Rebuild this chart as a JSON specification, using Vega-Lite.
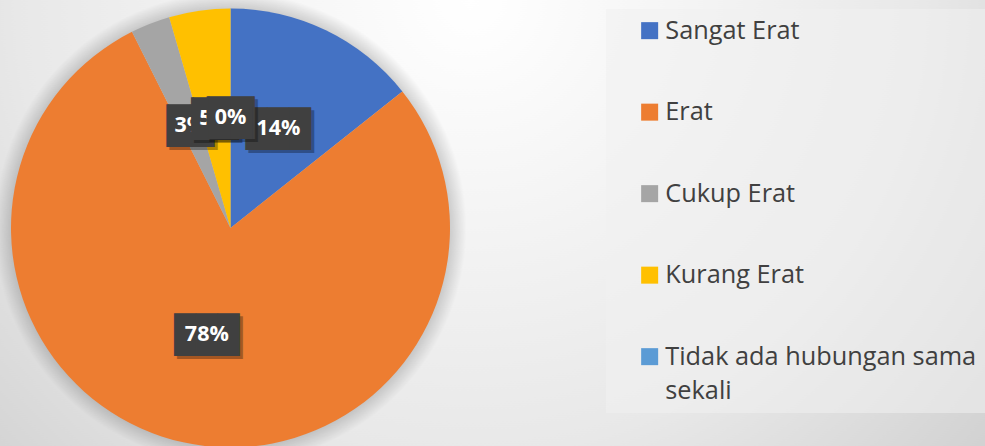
{
  "$schema": "https://vega.github.io/schema/vega-lite/v6.json",
  "width": 439,
  "height": 436,
  "autosize": {"type": "none"},
  "padding": {"left": 11, "top": 10, "right": 535, "bottom": 0},
  "background": "#e6e6e6",
  "config": {"view": {"stroke": null}},
  "data": {
    "values": [
      {"no": 1, "kategori": "Sangat Erat", "nilai": 14.3, "label": "14%"},
      {"no": 2, "kategori": "Erat", "nilai": 78.2, "label": "78%"},
      {"no": 3, "kategori": "Cukup Erat", "nilai": 2.9, "label": "3%"},
      {"no": 4, "kategori": "Kurang Erat", "nilai": 4.5, "label": "5%"},
      {"no": 5, "kategori": "Tidak ada hubungan sama sekali", "nilai": 0, "label": "0%"}
    ]
  },
  "layer": [
    {
      "transform": [{"filter": "datum.no == 1"}],
      "mark": {
        "type": "arc", "theta": 0, "theta2": 6.2832, "outerRadius": 800,
        "fill": {
          "gradient": "radial",
          "x1": 0.65, "y1": 0.358, "r1": 0,
          "x2": 0.65, "y2": 0.358, "r2": 0.44,
          "stops": [
            {"offset": 0, "color": "#ffffff"},
            {"offset": 0.64, "color": "#e8e8e8"},
            {"offset": 1, "color": "#cfcfcf"}
          ]
        }
      }
    },
    {
      "transform": [{"filter": "datum.no == 1"}],
      "mark": {
        "type": "arc", "theta": 0, "theta2": 6.2832, "outerRadius": 236,
        "fill": {
          "gradient": "radial",
          "x1": 0.5, "y1": 0.5, "r1": 0,
          "x2": 0.5, "y2": 0.5, "r2": 0.5,
          "stops": [
            {"offset": 0, "color": "rgba(0,0,0,0.2)"},
            {"offset": 0.93, "color": "rgba(0,0,0,0.16)"},
            {"offset": 1, "color": "rgba(0,0,0,0)"}
          ]
        }
      }
    },
    {
      "encoding": {
        "theta": {"field": "nilai", "type": "quantitative", "stack": true},
        "order": {"field": "no", "type": "quantitative"}
      },
      "layer": [
        {
          "mark": {"type": "arc", "outerRadius": 219.5},
          "encoding": {
            "color": {
              "field": "kategori",
              "type": "nominal",
              "sort": ["Sangat Erat", "Erat", "Cukup Erat", "Kurang Erat", "Tidak ada hubungan sama sekali"],
              "scale": {
                "domain": ["Sangat Erat", "Erat", "Cukup Erat", "Kurang Erat", "Tidak ada hubungan sama sekali"],
                "range": ["#4472C4", "#ED7D31", "#A5A5A5", "#FFC000", "#5B9BD5"]
              },
              "legend": {
                "orient": "none",
                "legendX": 595,
                "legendY": -1,
                "title": null,
                "symbolType": "square",
                "symbolSize": 289,
                "symbolStrokeWidth": 0,
                "labelFont": "Open Sans",
                "labelFontSize": 25.3,
                "labelColor": "#404040",
                "rowPadding": 55.5,
                "padding": 9,
                "fillColor": "rgba(240,240,240,0.55)",
                "symbolOffset": 22,
                "labelOffset": 3,
                "labelLimit": 400,
                "labelExpr": "datum.label == 'Tidak ada hubungan sama sekali' ? ['Tidak ada hubungan sama', 'sekali'] : datum.label",
                "encode": {"labels": {"update": {"lineHeight": {"value": 34}}}}
              }
            }
          }
        },
        {
          "mark": {"type": "text", "radius": 110, "font": "DejaVu Sans Mono", "fontSize": 36, "dx": 3, "dy": 4, "fill": "#000000"},
          "encoding": {
            "detail": {"field": "kategori"},
            "text": {"condition": {"test": "length(datum.label) > 2", "value": "███"}, "value": "▕██▏"},
            "opacity": {"condition": {"test": "datum.no <= 2", "value": 0.3}, "value": 0}
          }
        },
        {
          "mark": {"type": "text", "radius": 110, "font": "DejaVu Sans Mono", "fontSize": 36, "dy": 1, "fill": "#404040"},
          "encoding": {
            "detail": {"field": "kategori"},
            "text": {"condition": {"test": "length(datum.label) > 2", "value": "███"}, "value": "▕██▏"},
            "opacity": {"condition": {"test": "datum.no <= 2", "value": 1}, "value": 0}
          }
        },
        {
          "mark": {"type": "text", "radius": 110, "font": "Open Sans", "fontWeight": "bold", "fontSize": 21.5, "fill": "#ffffff"},
          "encoding": {
            "detail": {"field": "kategori"},
            "text": {"field": "label"},
            "opacity": {"condition": {"test": "datum.no <= 2", "value": 1}, "value": 0}
          }
        },
        {
          "mark": {"type": "text", "radius": 110, "font": "DejaVu Sans Mono", "fontSize": 36, "dx": 3, "dy": 4, "fill": "#000000"},
          "encoding": {
            "detail": {"field": "kategori"},
            "text": {"condition": {"test": "length(datum.label) > 2", "value": "███"}, "value": "▕██▏"},
            "opacity": {"condition": {"test": "datum.no == 3", "value": 0.3}, "value": 0}
          }
        },
        {
          "mark": {"type": "text", "radius": 110, "font": "DejaVu Sans Mono", "fontSize": 36, "dy": 1, "fill": "#404040"},
          "encoding": {
            "detail": {"field": "kategori"},
            "text": {"condition": {"test": "length(datum.label) > 2", "value": "███"}, "value": "▕██▏"},
            "opacity": {"condition": {"test": "datum.no == 3", "value": 1}, "value": 0}
          }
        },
        {
          "mark": {"type": "text", "radius": 110, "font": "Open Sans", "fontWeight": "bold", "fontSize": 21.5, "fill": "#ffffff"},
          "encoding": {
            "detail": {"field": "kategori"},
            "text": {"field": "label"},
            "opacity": {"condition": {"test": "datum.no == 3", "value": 1}, "value": 0}
          }
        },
        {
          "mark": {"type": "text", "radius": 110, "font": "DejaVu Sans Mono", "fontSize": 36, "dx": 3, "dy": 4, "fill": "#000000"},
          "encoding": {
            "detail": {"field": "kategori"},
            "text": {"condition": {"test": "length(datum.label) > 2", "value": "███"}, "value": "▕██▏"},
            "opacity": {"condition": {"test": "datum.no == 4", "value": 0.3}, "value": 0}
          }
        },
        {
          "mark": {"type": "text", "radius": 110, "font": "DejaVu Sans Mono", "fontSize": 36, "dy": 1, "fill": "#404040"},
          "encoding": {
            "detail": {"field": "kategori"},
            "text": {"condition": {"test": "length(datum.label) > 2", "value": "███"}, "value": "▕██▏"},
            "opacity": {"condition": {"test": "datum.no == 4", "value": 1}, "value": 0}
          }
        },
        {
          "mark": {"type": "text", "radius": 110, "font": "Open Sans", "fontWeight": "bold", "fontSize": 21.5, "fill": "#ffffff"},
          "encoding": {
            "detail": {"field": "kategori"},
            "text": {"field": "label"},
            "opacity": {"condition": {"test": "datum.no == 4", "value": 1}, "value": 0}
          }
        },
        {
          "mark": {"type": "text", "radius": 110, "font": "DejaVu Sans Mono", "fontSize": 36, "dx": 3, "dy": 4, "fill": "#000000"},
          "encoding": {
            "detail": {"field": "kategori"},
            "text": {"condition": {"test": "length(datum.label) > 2", "value": "███"}, "value": "▕██▏"},
            "opacity": {"condition": {"test": "datum.no == 5", "value": 0.3}, "value": 0}
          }
        },
        {
          "mark": {"type": "text", "radius": 110, "font": "DejaVu Sans Mono", "fontSize": 36, "dy": 1, "fill": "#404040"},
          "encoding": {
            "detail": {"field": "kategori"},
            "text": {"condition": {"test": "length(datum.label) > 2", "value": "███"}, "value": "▕██▏"},
            "opacity": {"condition": {"test": "datum.no == 5", "value": 1}, "value": 0}
          }
        },
        {
          "mark": {"type": "text", "radius": 110, "font": "Open Sans", "fontWeight": "bold", "fontSize": 21.5, "fill": "#ffffff"},
          "encoding": {
            "detail": {"field": "kategori"},
            "text": {"field": "label"},
            "opacity": {"condition": {"test": "datum.no == 5", "value": 1}, "value": 0}
          }
        }
      ]
    }
  ]
}
